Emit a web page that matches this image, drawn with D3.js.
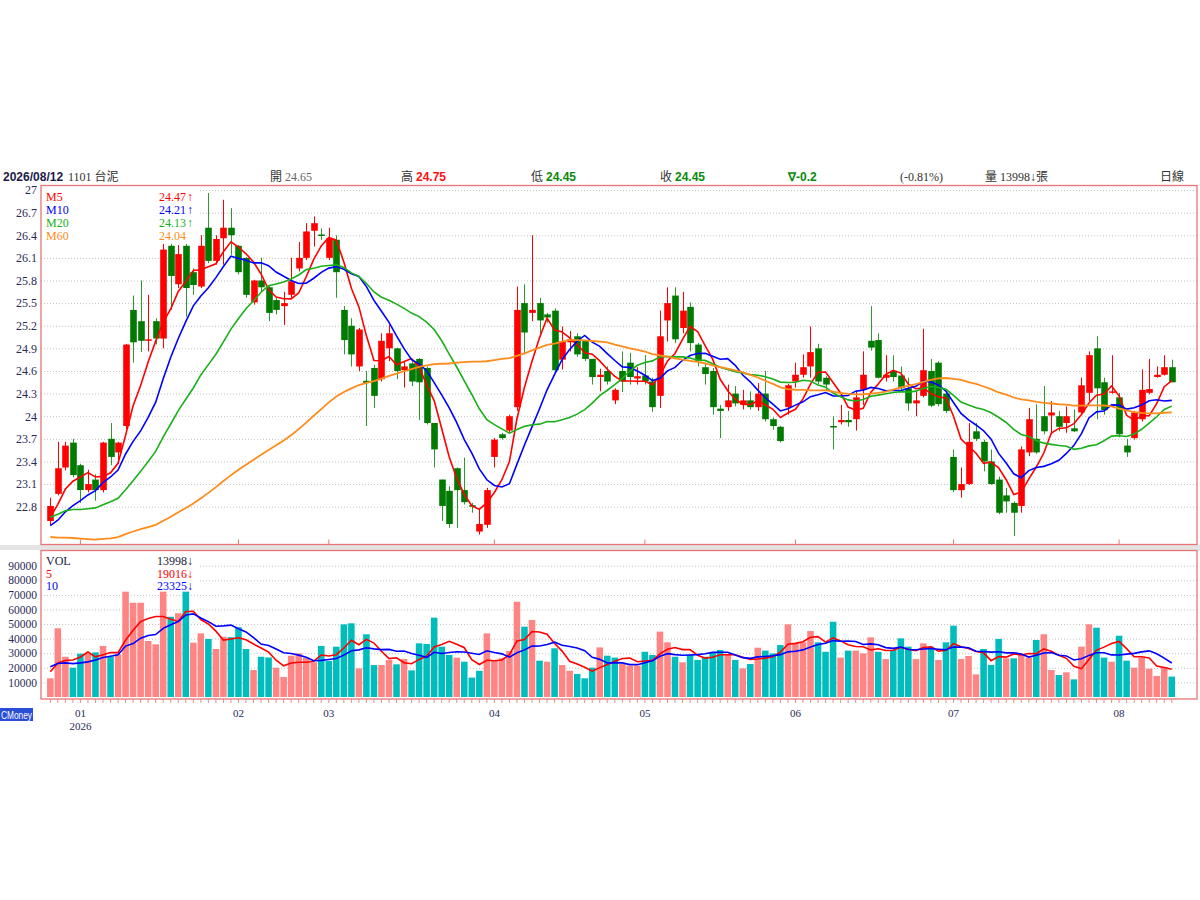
<!DOCTYPE html>
<html>
<head>
<meta charset="utf-8">
<script src="https://cdn.jsdelivr.net/npm/d3@7"></script>
<style>
  body { margin: 0; background: #fff; }
  svg text { font-family: "Liberation Serif", "Noto Sans CJK TC", serif; }
</style>
</head>
<body>
<script>
// daily candles, 2025/12 late .. 2026/08/12
var open = [22.61,22.97,23.32,23.65,23.35,23.02,23.16,23.02,23.70,23.52,
  23.87,25.41,25.26,25.00,25.26,25.03,26.26,25.75,26.26,25.91,
  25.72,26.50,26.06,26.36,26.50,26.26,26.10,25.51,25.80,25.71,
  25.54,25.46,25.61,25.96,26.10,26.46,26.41,26.10,26.34,25.41,
  25.20,24.66,24.47,24.64,24.49,24.90,24.90,24.61,24.70,24.76,
  24.64,23.91,23.16,23.01,23.31,23.02,22.82,22.47,22.56,23.46,
  23.76,23.81,24.12,25.50,25.37,25.50,25.35,25.40,24.75,24.98,
  25.06,25.00,24.76,24.52,24.60,24.21,24.60,24.71,24.50,24.54,
  24.46,24.27,25.27,25.60,25.17,25.45,24.95,24.65,24.60,24.10,
  24.12,24.30,24.15,24.21,24.12,24.30,23.96,23.86,24.12,24.46,
  24.55,24.66,24.90,24.51,23.87,23.92,23.95,23.96,24.35,25.00,
  25.01,24.51,24.60,24.54,24.37,24.17,24.27,24.60,24.71,24.30,
  23.46,23.02,23.10,23.80,23.66,23.40,23.16,22.95,22.85,22.81,
  23.52,23.70,24.00,24.01,24.00,23.91,23.84,24.05,24.31,24.90,
  24.45,24.31,24.25,23.61,23.71,23.96,24.31,24.52,24.55,24.65];

var high = [22.92,23.66,23.66,23.70,23.37,23.29,23.23,23.66,23.91,23.66,
  24.96,25.60,25.80,25.61,25.30,26.29,26.32,26.27,26.30,25.96,
  26.40,26.96,26.40,26.87,26.76,26.27,26.11,25.81,26.10,25.74,
  25.57,25.65,26.10,26.31,26.56,26.65,26.49,26.50,26.40,25.46,
  25.30,25.17,24.60,24.68,25.10,25.21,24.91,24.72,24.73,24.77,
  24.66,23.91,23.16,23.07,23.32,23.45,22.85,22.78,23.05,23.71,
  23.78,24.02,25.72,25.75,26.40,25.57,25.37,25.43,25.19,25.13,
  25.10,25.01,24.76,24.63,24.66,24.37,24.86,24.84,24.65,24.81,
  24.51,25.40,25.71,25.71,25.65,25.51,24.97,24.71,24.64,24.15,
  24.42,24.40,24.35,24.33,24.44,24.60,23.98,23.87,24.43,24.71,
  24.82,25.19,24.96,24.53,24.00,24.15,24.07,24.34,24.86,25.46,
  25.10,24.81,24.81,24.66,24.51,24.34,25.16,24.76,24.73,24.33,
  23.56,23.32,23.91,23.91,23.69,23.56,23.20,23.05,22.87,23.60,
  24.11,24.16,24.40,24.20,24.07,24.13,24.09,24.51,24.86,25.06,
  24.51,24.81,24.31,23.70,24.07,24.62,24.76,24.66,24.81,24.75];

var low = [22.55,22.95,23.28,23.19,22.85,22.99,22.88,22.99,23.35,23.37,
  23.83,24.71,24.85,24.86,24.95,24.90,25.41,25.70,25.32,25.61,
  25.70,26.03,26.01,26.01,26.14,25.88,25.57,25.48,25.65,25.26,
  25.35,25.21,25.57,25.92,26.07,26.25,26.34,26.07,25.57,24.82,
  24.66,24.60,23.87,24.11,24.46,24.73,24.49,24.38,24.40,23.95,
  23.89,23.32,22.61,22.52,22.52,22.83,22.72,22.43,22.52,23.32,
  23.69,23.78,24.07,24.82,25.26,25.06,25.24,24.58,24.62,24.86,
  24.79,24.73,24.42,24.33,24.42,24.16,24.32,24.42,24.42,24.42,
  24.06,24.11,24.99,24.97,25.10,24.86,24.66,24.42,24.02,23.71,
  24.07,24.13,24.09,24.09,24.07,23.93,23.82,23.65,24.02,24.38,
  24.51,24.51,24.42,24.34,23.56,23.89,23.86,23.81,24.15,24.87,
  24.50,24.46,24.46,24.33,24.07,24.00,24.25,24.12,24.13,24.04,
  22.99,22.92,23.09,23.67,23.27,23.09,22.70,22.72,22.41,22.72,
  23.47,23.50,23.76,23.76,23.80,23.78,23.79,24.02,24.20,23.96,
  24.02,24.30,23.72,23.46,23.69,23.93,24.29,24.51,24.54,24.45];

var close = [22.81,23.31,23.61,23.22,23.02,23.10,23.02,23.65,23.46,23.65,
  24.95,24.98,25.00,25.02,25.03,26.21,25.86,26.15,25.70,25.74,
  26.26,26.06,26.35,26.50,26.40,25.91,25.61,25.80,25.71,25.37,
  25.41,25.50,25.79,26.10,26.45,26.56,26.39,26.36,25.91,25.01,
  24.82,25.15,24.44,24.27,25.00,25.10,24.60,24.66,24.46,24.45,
  23.91,23.56,22.81,22.57,23.02,22.86,22.80,22.57,23.02,23.69,
  23.71,24.00,25.41,25.11,25.41,25.27,25.31,24.61,24.99,25.02,
  24.82,24.76,24.52,24.55,24.46,24.35,24.46,24.52,24.53,24.46,
  24.12,25.06,25.50,25.02,25.40,24.97,24.73,24.56,24.12,24.07,
  24.21,24.17,24.21,24.12,24.30,23.96,23.87,23.67,24.41,24.55,
  24.65,24.85,24.46,24.42,23.86,23.95,23.92,24.25,24.55,24.91,
  24.51,24.55,24.52,24.37,24.17,24.21,24.61,24.14,24.16,24.07,
  23.02,23.10,23.66,23.70,23.40,23.10,22.72,22.87,22.72,23.56,
  23.96,23.52,23.80,24.05,23.86,24.00,23.80,24.41,24.81,24.37,
  24.08,24.33,23.76,23.52,24.05,24.35,24.36,24.55,24.65,24.45];

var volume = [12800,47100,27600,20100,29700,29700,30600,35000,27600,29300,
  72200,64600,64600,38400,36100,72200,55000,57400,72200,37200,
  43600,39800,32900,41300,41000,47800,32900,18500,27600,27100,
  20100,13700,28300,29900,27000,23800,35000,24700,34500,49800,
  50500,19600,43000,21900,21900,25400,22400,26000,18300,36800,
  36300,54400,34500,28800,27000,24200,13300,18000,43600,25400,
  26500,31500,65300,48200,52800,24900,24200,33400,21900,18000,
  15800,12800,20100,34000,28300,27000,22600,21500,21500,31000,
  28800,44800,37500,27600,23800,28800,25400,27600,30600,32200,
  28800,25400,19600,22600,33800,31800,29900,35600,49800,36800,
  37500,45200,37500,31000,51600,27000,31800,31800,29900,40900,
  31000,26000,32200,40200,34500,26000,36800,34500,25400,37500,
  48900,26000,28100,15500,32900,22000,39800,26500,26500,29200,
  27000,39100,43000,18500,15100,16900,12100,34500,49800,47500,
  27000,24200,42000,24900,20100,27000,19400,14400,20300,13998];

// closes / volumes before the first visible bar (only feed the moving averages)
var priorClose = [23.75,23.65,23.55,23.50,23.45,23.45,23.15,22.95,22.75,22.55,
  22.85,23.15,23.35,23.25,22.95,22.75,22.55,22.35,22.15,21.95,
  21.85,21.75,21.65,21.75,21.60,21.70,21.80,21.70,21.60,21.65,
  21.70,21.55,21.30,21.20,21.10,21.10,21.05,21.20,21.50,21.90,
  22.50,22.70,22.90,23.00,22.90,22.80,22.80,22.70,22.70,22.70,
  22.60,22.50,22.40,22.35,22.35,22.45,22.60,22.70,22.74];
var priorVolume = [26000,23000,25000,24500,23000,17000,19000,18500,19200];

var maPeriods = [5, 10, 20, 60];
var maNames = ["M5", "M10", "M20", "M60"];
var maLegendValues = ["24.47", "24.21", "24.13", "24.04"];
var maLegendArrows = ["\u2191", "\u2191", "\u2191", ""];
var volPeriods = [5, 10];
var volNames = ["VOL", "5", "10"];
var volLegendValues = ["13998", "19016", "23325"];

var monthLabels = ["01", "02", "03", "04", "05", "06", "07", "08"];
var monthStart = [4, 25, 37, 59, 79, 99, 120, 142];
var priceTicks = [27, 26.7, 26.4, 26.1, 25.8, 25.5, 25.2, 24.9, 24.6, 24.3, 24, 23.7, 23.4, 23.1, 22.8];
var volumeTicks = [10000, 20000, 30000, 40000, 50000, 60000, 70000, 80000, 90000];

// layout
var W = 1200, H = 900;
var left = 41, right = 1197;
var pTop = 185.5, pBot = 544.5;
var vTop = 550.5, vBot = 699;

var maColors = ["#ff0000", "#0000ff", "#19b019", "#ff8c1a"];
var volColors = ["#202040", "#ff0000", "#0000ff"];
var upColor = "#ff0000", downColor = "#007a00";
var volUp = "#ff8585", volDown = "#00bdbd";
var axisText = "#2a2a55";
var gridColor = "#c2c2c2";
var borderColor = "#e77575";

var svg = d3.select("body").append("svg")
    .attr("width", W)
    .attr("height", H);

var n = close.length;
var step = 7.52;
var x = d3.scaleBand()
    .domain(d3.range(n))
    .range([47.04, 47.04 + step * n])
    .paddingInner(0.13);
var bw = x.bandwidth();
function cx(i) { return x(i) + bw / 2; }

var y = d3.scaleLinear().domain([22.8, 27]).range([506.7, 190]);
var vy = d3.scaleLinear().domain([0, 90000]).range([697, 565.7]);

// moving averages including the earlier history
function movingAvg(prior, vals, p) {
  var all = prior.concat(vals), off = prior.length;
  return vals.map(function(d, i) {
    return d3.mean(all.slice(off + i - p + 1, off + i + 1));
  });
}

// band between panels
svg.append("rect")
    .attr("x", 0).attr("y", 545).attr("width", W).attr("height", 5)
    .attr("fill", "#e4e4e4");

// ---------- price panel ----------
svg.append("clipPath").attr("id", "clipP")
  .append("rect").attr("x", left).attr("y", pTop).attr("width", right - left).attr("height", pBot - pTop);
svg.append("clipPath").attr("id", "clipV")
  .append("rect").attr("x", left).attr("y", vTop).attr("width", right - left).attr("height", vBot - vTop);

// grid
svg.append("g")
    .attr("transform", "translate(" + left + ",0)")
    .call(d3.axisLeft(y).tickValues(priceTicks).tickSize(-(right - left)).tickFormat(""))
    .call(function(g) {
      g.select(".domain").remove();
      g.selectAll("line").attr("stroke", gridColor).attr("stroke-dasharray", "1,2");
    });

// y labels
svg.append("g")
    .attr("transform", "translate(" + (left - 4) + ",0)")
    .call(d3.axisLeft(y).tickValues(priceTicks).tickSize(0).tickPadding(0).tickFormat(d3.format("~g")))
    .call(function(g) {
      g.select(".domain").remove();
      g.selectAll("text").attr("fill", axisText).style("font-size", "12px")
        .style("font-family", "'Liberation Serif', serif");
    });

var pg = svg.append("g").attr("clip-path", "url(#clipP)");

// wicks
pg.selectAll(".wick")
  .data(d3.range(n))
  .enter().append("line")
    .attr("x1", function(i) { return Math.round(cx(i)) + 0.5; })
    .attr("x2", function(i) { return Math.round(cx(i)) + 0.5; })
    .attr("y1", function(i) { return y(high[i]); })
    .attr("y2", function(i) { return y(low[i]); })
    .attr("stroke", function(i) { return close[i] >= open[i] ? upColor : "#2e9a2e"; })
    .attr("stroke-width", 1);

// bodies
pg.selectAll(".body")
  .data(d3.range(n))
  .enter().append("rect")
    .attr("x", function(i) { return Math.round(cx(i)) + 0.5 - 3.3; })
    .attr("width", 6.6)
    .attr("y", function(i) { return y(Math.max(open[i], close[i])); })
    .attr("height", function(i) { return Math.max(1.5, Math.abs(y(open[i]) - y(close[i]))); })
    .attr("fill", function(i) { return close[i] >= open[i] ? upColor : downColor; });

// MA lines
var priceLine = d3.line()
    .x(function(d, i) { return cx(i); })
    .y(function(d) { return y(d); });

maPeriods.forEach(function(p, k) {
  pg.append("path")
      .datum(movingAvg(priorClose, close, p))
      .attr("fill", "none")
      .attr("stroke", maColors[k])
      .attr("stroke-width", k === 3 ? 1.8 : 1.6)
      .attr("d", priceLine);
});

// month ticks on the price panel bottom
svg.append("g")
    .attr("transform", "translate(0," + pBot + ")")
    .call(d3.axisTop(x).tickValues(monthStart).tickSize(5).tickFormat(""))
    .call(function(g) {
      g.select(".domain").remove();
      g.selectAll("line").attr("stroke", borderColor);
    });

// border
svg.append("rect")
    .attr("x", left).attr("y", pTop).attr("width", right - left).attr("height", pBot - pTop)
    .attr("fill", "none").attr("stroke", borderColor).attr("stroke-width", 1.3);

// legend
var lg = svg.append("g");
lg.append("rect").attr("x", 42).attr("y", 187).attr("width", 156).attr("height", 57).attr("fill", "#fff");
maNames.forEach(function(name, k) {
  lg.append("text").attr("x", 46).attr("y", 201 + k * 13)
    .attr("fill", maColors[k]).style("font-size", "12px").text(name);
  lg.append("text").attr("x", 186).attr("y", 201 + k * 13)
    .attr("text-anchor", "end")
    .attr("fill", maColors[k]).style("font-size", "12px")
    .text(maLegendValues[k]);
  lg.append("text").attr("x", 187).attr("y", 201 + k * 13)
    .attr("fill", maColors[k]).style("font-size", "12px")
    .text(maLegendArrows[k]);
});

// ---------- volume panel ----------
svg.append("g")
    .attr("transform", "translate(" + left + ",0)")
    .call(d3.axisLeft(vy).tickValues(volumeTicks).tickSize(-(right - left)).tickFormat(""))
    .call(function(g) {
      g.select(".domain").remove();
      g.selectAll("line").attr("stroke", gridColor).attr("stroke-dasharray", "1,2");
    });

svg.append("g")
    .attr("transform", "translate(" + (left - 4) + ",0)")
    .call(d3.axisLeft(vy).tickValues(volumeTicks).tickSize(0).tickPadding(0).tickFormat(d3.format("d")))
    .call(function(g) {
      g.select(".domain").remove();
      g.selectAll("text").attr("fill", axisText).style("font-size", "11.5px")
        .style("font-family", "'Liberation Serif', serif");
    });

var vg = svg.append("g").attr("clip-path", "url(#clipV)");

var allClose = priorClose.concat(close);
vg.selectAll(".vol")
  .data(volume)
  .enter().append("rect")
    .attr("x", function(d, i) { return x(i); })
    .attr("width", bw)
    .attr("y", function(d) { return vy(d); })
    .attr("height", function(d) { return vy(0) - vy(d); })
    .attr("fill", function(d, i) {
      var prev = allClose[priorClose.length + i - 1];
      return close[i] >= prev ? volUp : volDown;
    });

var volLine = d3.line()
    .x(function(d, i) { return cx(i); })
    .y(function(d) { return vy(d); });

volPeriods.forEach(function(p, k) {
  vg.append("path")
      .datum(movingAvg(priorVolume, volume, p))
      .attr("fill", "none")
      .attr("stroke", volColors[k + 1])
      .attr("stroke-width", 1.6)
      .attr("d", volLine);
});

// bar ticks under the volume panel
svg.append("g")
    .attr("transform", "translate(0," + vBot + ")")
    .call(d3.axisBottom(x).tickSize(4).tickFormat(""))
    .call(function(g) {
      g.select(".domain").remove();
      g.selectAll("line").attr("stroke", "#e99090");
    });

svg.append("rect")
    .attr("x", left).attr("y", vTop).attr("width", right - left).attr("height", vBot - vTop)
    .attr("fill", "none").attr("stroke", borderColor).attr("stroke-width", 1.3);

// volume legend
var vl = svg.append("g");
vl.append("rect").attr("x", 42).attr("y", 552).attr("width", 156).attr("height", 39).attr("fill", "#fff");
volNames.forEach(function(name, k) {
  vl.append("text").attr("x", 46).attr("y", 565 + k * 12.5)
    .attr("fill", volColors[k]).style("font-size", "12px").text(name);
  vl.append("text").attr("x", 193).attr("y", 565 + k * 12.5)
    .attr("text-anchor", "end")
    .attr("fill", volColors[k]).style("font-size", "12px")
    .text(volLegendValues[k] + "\u2193");
});

// month labels
svg.append("g")
  .selectAll("text")
  .data(monthStart)
  .enter().append("text")
    .attr("x", function(d) { return cx(d); })
    .attr("y", 717)
    .attr("text-anchor", "middle")
    .attr("fill", axisText)
    .style("font-size", "11px")
    .text(function(d, k) { return monthLabels[k]; });

svg.append("text")
    .attr("x", cx(monthStart[0])).attr("y", 729.5)
    .attr("text-anchor", "middle")
    .attr("fill", axisText).style("font-size", "11px")
    .text("2026");

// CMoney tag
svg.append("rect").attr("x", 0).attr("y", 708).attr("width", 33).attr("height", 13).attr("fill", "#2a4ed8");
svg.append("text").attr("x", 1).attr("y", 718.5)
    .attr("fill", "#fff")
    .attr("textLength", 31).attr("lengthAdjust", "spacingAndGlyphs")
    .style("font-family", "'Liberation Sans', sans-serif").style("font-size", "10px")
    .text("CMoney");

// ---------- header ----------
var hy = 181;
var head = svg.append("g").style("font-size", "12px");
head.append("text").attr("x", 3).attr("y", hy).attr("fill", "#1c1c48")
    .style("font-weight", "bold").style("font-family", "'Liberation Sans', sans-serif")
    .text("2026/08/12");
head.append("text").attr("x", 68).attr("y", hy).attr("fill", "#333").text("1101 台泥");

function headItem(xp, label, value, color, bold) {
  var t = head.append("text").attr("x", xp).attr("y", hy);
  t.append("tspan").attr("fill", "#333").text(label + " ");
  t.append("tspan").attr("fill", color)
    .style("font-weight", bold ? "bold" : "normal")
    .style("font-family", bold ? "'Liberation Sans', sans-serif" : null)
    .text(value);
}
headItem(270, "開", "24.65", "#666", false);
headItem(401, "高", "24.75", "#ff1010", true);
headItem(531, "低", "24.45", "#0a8a0a", true);
headItem(660, "收", "24.45", "#0a8a0a", true);
head.append("text").attr("x", 788).attr("y", hy).attr("fill", "#0a8a0a")
    .style("font-weight", "bold").style("font-family", "'Liberation Sans', sans-serif")
    .text("\u2207-0.2");
head.append("text").attr("x", 900).attr("y", hy).attr("fill", "#333").text("(-0.81%)");
head.append("text").attr("x", 985).attr("y", hy).attr("fill", "#333").text("量 13998\u2193張");
head.append("text").attr("x", 1160).attr("y", hy).attr("fill", "#333").text("日線");
</script>
</body>
</html>
